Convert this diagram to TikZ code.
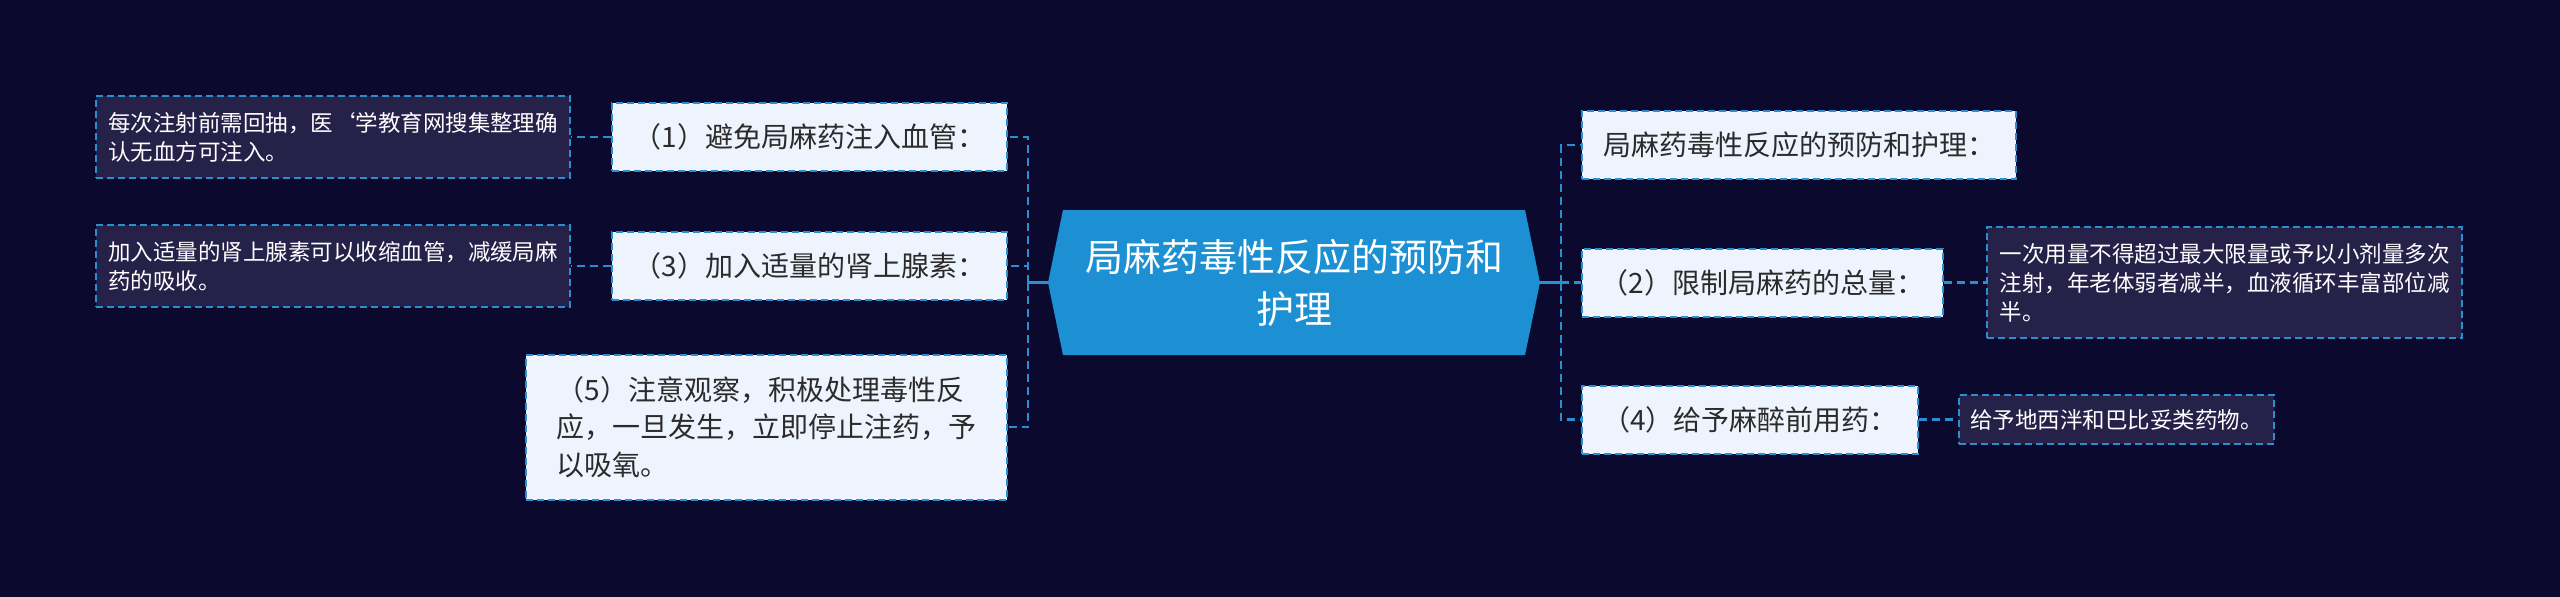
\documentclass[tikz,border=0pt]{standalone}
\usepackage{fontspec}
\setmainfont{Noto Sans CJK SC}[Ligatures=ResetAll]
\definecolor{bgcol}{HTML}{0B0A2E}
\definecolor{centerfill}{HTML}{1C90D2}
\definecolor{edgecol}{HTML}{2A8FD0}
\definecolor{topicfill}{HTML}{EEF4FE}
\definecolor{detailfill}{HTML}{252149}
\definecolor{topictext}{HTML}{2B2B2B}
\tikzset{
  topic/.style={draw=edgecol, line width=2pt, dash pattern=on 7pt off 4pt, fill=topicfill, text=topictext,
    font=\fontsize{28}{37.5}\selectfont, align=left, inner sep=0pt, minimum height=68pt},
  detail/.style={draw=edgecol, line width=2pt, dash pattern=on 7pt off 4pt, fill=detailfill, text=white,
    font=\fontsize{22.5}{29}\selectfont, align=left, inner sep=0pt},
  conn/.style={draw=edgecol, line width=2.5pt, dash pattern=on 8pt off 5pt},
  stem/.style={draw=edgecol, line width=2.5pt},
  centertext/.style={font=\fontsize{38}{52}\selectfont, text=white, align=center, inner sep=0pt,
    minimum width=492pt, minimum height=145pt}
}
\begin{document}
\begin{tikzpicture}[x=1pt,y=-1pt]
\useasboundingbox (0,0) rectangle (2560,597);
\fill[bgcol] (0,0) rectangle (2560,597);

% central topic
\fill[centerfill] (1048,282.5) -- (1063,210) -- (1525,210) -- (1540,282.5) -- (1525,355) -- (1063,355) -- cycle;
\node[centertext] (c) at (1294,282.5) {局麻药毒性反应的预防和\\护理};

% left topics
\node[topic, minimum width=395pt] (n1) at (809.5,137) {（1）避免局麻药注入血管：};
\node[topic, minimum width=395pt] (n3) at (809.5,266) {（3）加入适量的肾上腺素：};
\node[topic, minimum width=481pt, minimum height=145pt] (n5) at (766.5,427) {（5）注意观察，积极处理毒性反\\应，一旦发生，立即停止注药，予\\以吸氧。};

% right topics
\node[topic, minimum width=434pt] (na) at (1799,145) {局麻药毒性反应的预防和护理：};
\node[topic, minimum width=361pt] (n2) at (1762.5,282.5) {（2）限制局麻药的总量：};
\node[topic, minimum width=336pt] (n4) at (1750,419.5) {（4）给予麻醉前用药：};

% details
\node[detail, minimum width=474pt, minimum height=82pt] (d1) at (333,137) {每次注射前需回抽，医`学教育网搜集整理确\\认无血方可注入。};
\node[detail, minimum width=474pt, minimum height=82pt] (d3) at (333,266) {加入适量的肾上腺素可以收缩血管，减缓局麻\\药的吸收。};
\node[detail, minimum width=475pt, minimum height=111pt] (d2) at (2224.5,282.5) {一次用量不得超过最大限量或予以小剂量多次\\注射，年老体弱者减半，血液循环丰富部位减\\半。};
\node[detail, minimum width=315pt, minimum height=49pt] (d4) at (2116.5,419.5) {给予地西泮和巴比妥类药物。};

% connectors
\coordinate (lt) at (1028,282.5);
\coordinate (rt) at (1561,282.5);
\draw[stem] (c.west) -- (lt);
\draw[stem] (c.east) -- (rt);
\draw[conn] (lt) |- (n1.east);
\draw[conn] (lt) |- (n3.east);
\draw[conn] (lt) |- (n5.east);
\draw[conn] (rt) |- (na.west);
\draw[conn] (rt) |- (n2.west);
\draw[conn] (rt) |- (n4.west);
\draw[conn] (n1.west) -- (d1.east);
\draw[conn] (n3.west) -- (d3.east);
\draw[conn] (n2.east) -- (d2.west);
\draw[conn] (n4.east) -- (d4.west);
\end{tikzpicture}
\end{document}
